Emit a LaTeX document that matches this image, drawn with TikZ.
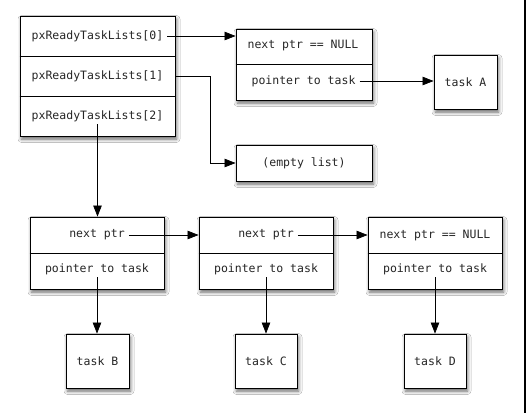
\documentclass[tikz,border=0pt]{standalone}
\usepackage{fontspec}
\setmonofont{DejaVu Sans Mono}
\usetikzlibrary{arrows.meta,shadows.blur}
\begin{document}
\begin{tikzpicture}[x=1pt,y=-1pt]
\tikzset{
  shbox/.style={draw, line width=0.9pt, fill=white, inner sep=0pt,
    blur shadow={shadow xshift=1.5pt, shadow yshift=-3pt, shadow blur radius=3.5pt, shadow opacity=60}},
  lbl/.style={font=\ttfamily\fontsize{11.5}{13}\selectfont, inner xsep=4pt, inner ysep=2.5pt, text=black!85},
  arr/.style={line width=0.7pt, -{Triangle[length=11pt,width=8.5pt]}},
  ln/.style={line width=0.9pt}
}
\fill[white] (0,0) rectangle (526,413);
\useasboundingbox (0,0) rectangle (526,413);
\fill[black] (523.5,0) rectangle (526,413);

% left table
\node[shbox, minimum width=155pt, minimum height=120pt] (tbl) at (97.5,76) {};
\draw[ln] (tbl.west |- 0,56) -- (tbl.east |- 0,56);
\draw[ln] (tbl.west |- 0,96) -- (tbl.east |- 0,96);
\node[lbl] (r0) at (97.5,36) {pxReadyTaskLists[0]};
\node[lbl] (r1) at (97.5,76) {pxReadyTaskLists[1]};
\node[lbl] (r2) at (97.5,116) {pxReadyTaskLists[2]};

% list item A
\node[shbox, minimum width=136pt, minimum height=71pt] (lA) at (304,64.5) {};
\draw[ln] (lA.west |- 0,64) -- (lA.east |- 0,64);
\node[lbl] (nxA) at (303,46) {next ptr == NULL};
\node[lbl] (ptA) at (303.5,81) {pointer to task};
\node[shbox, lbl, inner sep=0pt, minimum width=63pt, minimum height=54pt] (tA) at (465.5,82) {task A};

% empty list
\node[shbox, lbl, inner sep=0pt, minimum width=136pt, minimum height=36pt] (emp) at (304,163) {(empty list)};

% bottom list items
\node[shbox, minimum width=134pt, minimum height=72pt] (lB) at (97,253) {};
\node[shbox, minimum width=134pt, minimum height=72pt] (lC) at (266,253) {};
\node[shbox, minimum width=134pt, minimum height=72pt] (lD) at (435,253) {};
\foreach \n in {lB,lC,lD}{\draw[ln] (\n.west) -- (\n.east);}
\node[lbl] (nxB) at (97,235) {next ptr};
\node[lbl] (nxC) at (266,235) {next ptr};
\node[lbl] (nxD) at (435,235) {next ptr == NULL};
\node[lbl] (ptB) at (97,269) {pointer to task};
\node[lbl] (ptC) at (266,269) {pointer to task};
\node[lbl] (ptD) at (435,269) {pointer to task};

\node[shbox, lbl, inner sep=0pt, minimum width=63pt, minimum height=54pt] (tB) at (97.5,361) {task B};
\node[shbox, lbl, inner sep=0pt, minimum width=62pt, minimum height=54pt] (tC) at (266,361) {task C};
\node[shbox, lbl, inner sep=0pt, minimum width=62pt, minimum height=54pt] (tD) at (435,361) {task D};

% connectors
\draw[arr] (r0.east) -- (lA.west |- r0);
\coordinate (b1) at (210,163);
\draw[arr] (tbl.east |- r1) -| (b1) -- (emp.west);
\draw[arr] (r2.south) -- (r2.south |- lB.north);
\draw[arr] (ptA.east) -- (tA.west |- ptA);
\draw[arr] (nxB.east) -- (lC.west |- nxB);
\draw[arr] (nxC.east) -- (lD.west |- nxC);
\draw[arr] (ptB.south) -- (ptB.south |- tB.north);
\draw[arr] (ptC.south) -- (ptC.south |- tC.north);
\draw[arr] (ptD.south) -- (ptD.south |- tD.north);
\end{tikzpicture}
\end{document}
